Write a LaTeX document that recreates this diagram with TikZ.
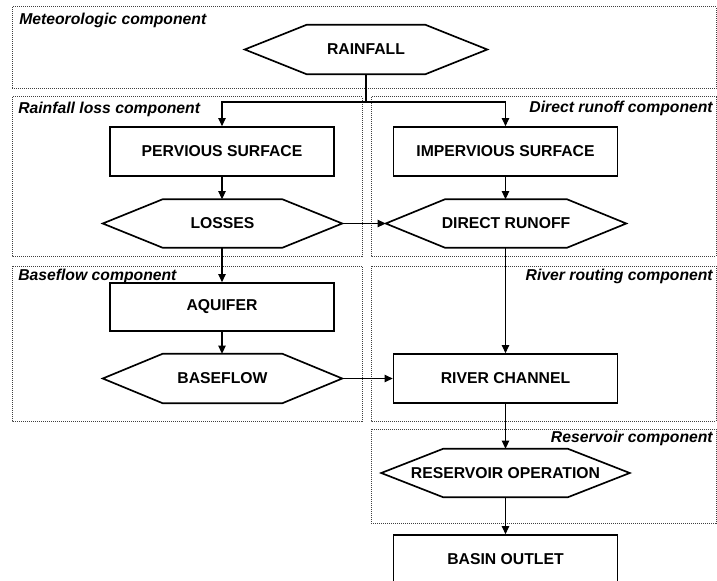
\documentclass[tikz,border=0pt]{standalone}
\usepackage{fontspec}
\setmainfont{Liberation Sans}
\usetikzlibrary{arrows.meta}
\newcommand{\hexpath}[2]{\draw[shapeline] (#1.west) -- ([xshift=#2]#1.north west) -- ([xshift=-#2]#1.north east) -- (#1.east) -- ([xshift=-#2]#1.south east) -- ([xshift=#2]#1.south west) -- cycle;}
\tikzset{
  x=0.75pt, y=-0.75pt,
  shapeline/.style={line width=1.25pt, line join=miter},
  boxnode/.style={draw, shapeline, rectangle, inner sep=0pt, minimum width=168pt, minimum height=36.75pt, font=\fontsize{11.8}{14}\selectfont\bfseries},
  hexnode/.style={rectangle, inner sep=0pt, minimum height=36pt, font=\fontsize{11.8}{14}\selectfont\bfseries},
  group/.style={draw=black!75, line width=0.75pt, dash pattern=on 0.75pt off 0.75pt},
  grouplabel/.style={inner sep=0pt, font=\fontsize{11.8}{14}\selectfont\bfseries\itshape},
  conn/.style={line width=0.8pt},
  arr/.style={conn, -{Triangle[length=6pt,width=5.5pt]}}
}
\begin{document}
\begin{tikzpicture}
\useasboundingbox (0,0) rectangle (717,581);
\clip (0,0) rectangle (717,581);
\fill[white] (0,0) rectangle (717,581);
% groups
\draw[group] (12,7) rectangle (716,89);
\draw[group] (12,97) rectangle (362,256);
\draw[group] (371,97) rectangle (716,256);
\draw[group] (12,266) rectangle (362,421);
\draw[group] (371,266) rectangle (716,421);
\draw[group] (371,429) rectangle (716,523);
\node[grouplabel, anchor=base west] (lmet) at (19,25) {Meteorologic component};
\node[grouplabel, anchor=base west] (lloss) at (18,114) {Rainfall loss component};
\node[grouplabel, anchor=base east] (ldir) at (713,113) {Direct runoff component};
\node[grouplabel, anchor=base west] (lbase) at (18,280) {Baseflow component};
\node[grouplabel, anchor=base east] (lroute) at (713,280) {River routing component};
\node[grouplabel, anchor=base east] (lres) at (713,442) {Reservoir component};
% nodes
\node[hexnode, minimum width=181.5pt, minimum height=36.75pt] (rain) at (366,49.5) {RAINFALL};
\hexpath{rain}{46.5pt}
\node[boxnode] (perv) at (222,151.5) {PERVIOUS SURFACE};
\node[boxnode] (imperv) at (505.5,151.5) {IMPERVIOUS SURFACE};
\node[hexnode, minimum width=179.25pt] (loss) at (222.5,223.5) {LOSSES};
\hexpath{loss}{45pt}
\node[hexnode, minimum width=180pt] (drun) at (506,223.5) {DIRECT RUNOFF};
\hexpath{drun}{44.5pt}
\node[boxnode, minimum height=36pt] (aqui) at (222,307) {AQUIFER};
\node[hexnode, minimum width=179.25pt, minimum height=36.75pt] (base) at (222.5,378.5) {BASEFLOW};
\hexpath{base}{45pt}
\node[boxnode] (river) at (505.5,378.5) {RIVER CHANNEL};
\node[hexnode, minimum width=186pt] (resv) at (505.5,473) {RESERVOIR OPERATION};
\hexpath{resv}{46.5pt}
\node[boxnode] (outlet) at (505.5,559.5) {BASIN OUTLET};
% connectors
\coordinate (j) at (366,102);
\draw[conn] (rain.south) -- (j);
\draw[arr] (j) -| (perv.north);
\draw[arr] (j) -| (imperv.north);
\draw[arr] (perv.south) -- (perv.south |- loss.north);
\draw[arr] (imperv.south) -- (imperv.south |- drun.north);
\draw[arr] (loss.east) -- (drun.west);
\draw[arr] (perv.south |- loss.south) -- (aqui.north);
\draw[arr] (aqui.south) -- (aqui.south |- base.north);
\draw[arr] (imperv.south |- drun.south) -- (river.north);
\draw[arr] (base.east) -- (river.west);
\draw[arr] (river.south) -- (resv.north);
\draw[arr] (resv.south) -- (outlet.north);
\end{tikzpicture}
\end{document}
